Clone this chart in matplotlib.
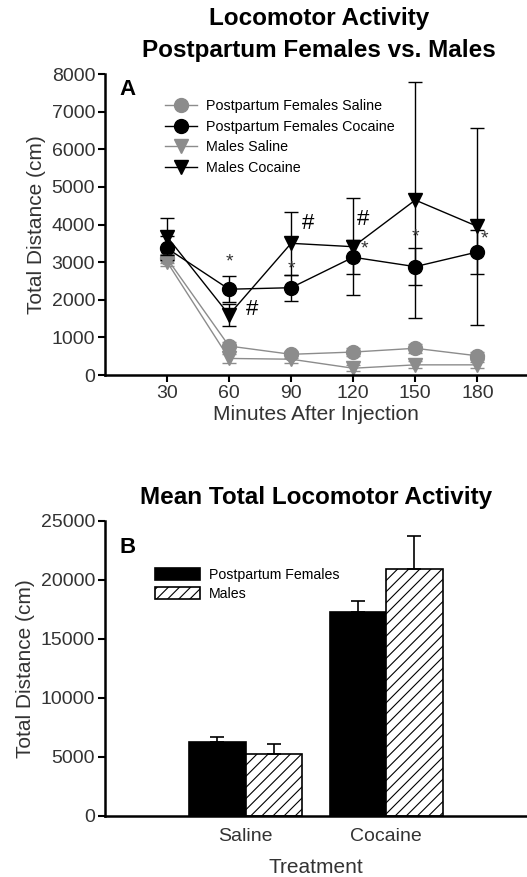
import matplotlib.pyplot as plt
import matplotlib
import numpy as np

matplotlib.rcParams['font.family'] = ['Liberation Sans', 'DejaVu Sans']
matplotlib.rcParams['hatch.linewidth'] = 0.8

# 数据 A
minutes = [30, 60, 90, 120, 150, 180]
pf_saline = [3100, 770, 550, 610, 710, 510]
pf_saline_err = [120, 120, 100, 100, 120, 100]
pf_cocaine = [3370, 2280, 2320, 3130, 2880, 3270]
pf_cocaine_err = [320, 350, 340, 450, 500, 590]
m_saline = [3010, 440, 420, 180, 270, 270]
m_saline_err = [100, 120, 100, 80, 90, 80]
m_cocaine = [3680, 1600, 3500, 3410, 4650, 3950]
m_cocaine_err = [500, 300, 840, 1290, 3130, 2610]

# 数据 B
treatments = ['Saline', 'Cocaine']
bar_pf = [6270, 17310]
bar_pf_err = [450, 880]
bar_m = [5280, 20900]
bar_m_err = [850, 2830]

grey = '#8c8c8c'
txt = '#333333'

fig = plt.figure(figsize=(5.27, 8.77), dpi=100)

def style_axes(ax):
    for s in ['top', 'right']:
        ax.spines[s].set_visible(False)
    for s in ['left', 'bottom']:
        ax.spines[s].set_linewidth(1.8)
    ax.tick_params(direction='out', length=5, width=1.5, labelsize=14, labelcolor=txt, pad=2)

# ---------- A ----------
ax1 = fig.add_axes([0.199, 0.5724, 0.801, 0.3432])
style_axes(ax1)
series = [
    (pf_saline, pf_saline_err, grey, 'o', 'Postpartum Females Saline'),
    (pf_cocaine, pf_cocaine_err, 'black', 'o', 'Postpartum Females Cocaine'),
    (m_saline, m_saline_err, grey, 'v', 'Males Saline'),
    (m_cocaine, m_cocaine_err, 'black', 'v', 'Males Cocaine'),
]
for vals, err, c, mk, lab in series:
    ax1.errorbar(minutes, vals, yerr=err, color=c, fmt='none',
                 elinewidth=1.0, capsize=5, capthick=1.0)
    ax1.plot(minutes, vals, color=c, marker=mk, markersize=10, linewidth=1.0, label=lab)

ax1.set_xlim(0, 204)
ax1.set_ylim(0, 8000)
ax1.set_xticks(minutes)
ax1.set_yticks(np.arange(0, 8001, 1000))
ax1.set_xlabel('Minutes After Injection', fontsize=15, color=txt, labelpad=2)
ax1.set_ylabel('Total Distance (cm)', fontsize=15, color=txt, labelpad=4)
fig.text(0.605, 1 - 18 / 877, 'Locomotor Activity', fontsize=17.5, fontweight='bold',
         ha='center', va='center')
fig.text(0.605, 1 - 50 / 877, 'Postpartum Females vs. Males', fontsize=17.5,
         fontweight='bold', ha='center', va='center')
ax1.text(0.035, 0.95, 'A', transform=ax1.transAxes, fontsize=16, fontweight='bold',
         va='center', ha='left')
ax1.legend(loc='upper left', bbox_to_anchor=(0.13, 0.935), frameon=False, fontsize=10.3,
           handlelength=2.2, handletextpad=0.6, labelspacing=0.45, borderaxespad=0)

# 显著性标记
ax1.text(60, 3010, '*', fontsize=14, ha='center', va='center', color=txt)
ax1.text(71, 1730, '#', fontsize=16, ha='center', va='center', color='black')
ax1.text(90, 2810, '*', fontsize=14, ha='center', va='center', color=txt)
ax1.text(98, 4030, '#', fontsize=16, ha='center', va='center', color='black')
ax1.text(125, 4120, '#', fontsize=16, ha='center', va='center', color='black')
ax1.text(125.5, 3340, '*', fontsize=14, ha='center', va='center', color=txt)
ax1.text(150, 3660, '*', fontsize=14, ha='center', va='center', color=txt)
ax1.text(183.5, 3610, '*', fontsize=14, ha='center', va='center', color=txt)

# ---------- B ----------
ax2 = fig.add_axes([0.199, 0.0696, 0.801, 0.3367])
style_axes(ax2)
x = np.array([1, 2])
w = 0.4
ax2.bar(x - w / 2, bar_pf, w, color='black', edgecolor='black', linewidth=1.2,
        label='Postpartum Females')
ax2.bar(x + w / 2, bar_m, w, color='white', edgecolor='black', linewidth=1.2,
        hatch='///', label='Males')
ax2.errorbar(x - w / 2, bar_pf, yerr=[[0, 0], bar_pf_err], fmt='none', ecolor='black',
             elinewidth=1.2, capsize=5, capthick=1.2)
ax2.errorbar(x + w / 2, bar_m, yerr=[[0, 0], bar_m_err], fmt='none', ecolor='black',
             elinewidth=1.2, capsize=5, capthick=1.2)
ax2.set_xlim(0, 3)
ax2.set_ylim(0, 25000)
ax2.set_xticks(x)
ax2.set_xticklabels(treatments)
ax2.tick_params(axis='x', length=0, pad=9)
ax2.set_yticks(np.arange(0, 25001, 5000))
ax2.set_xlabel('Treatment', fontsize=15, color=txt, labelpad=9)
ax2.set_ylabel('Total Distance (cm)', fontsize=15, color=txt, labelpad=4)
ax2.set_title('Mean Total Locomotor Activity', fontsize=17.5, fontweight='bold', pad=12)
ax2.text(0.035, 0.91, 'B', transform=ax2.transAxes, fontsize=16, fontweight='bold',
         va='center', ha='left')
ax2.legend(loc='upper left', bbox_to_anchor=(0.105, 0.86), frameon=False, fontsize=10.2,
           handlelength=3.2, handleheight=0.9, handletextpad=0.6, labelspacing=0.35,
           borderaxespad=0)

fig.savefig('out.png', dpi=100)
